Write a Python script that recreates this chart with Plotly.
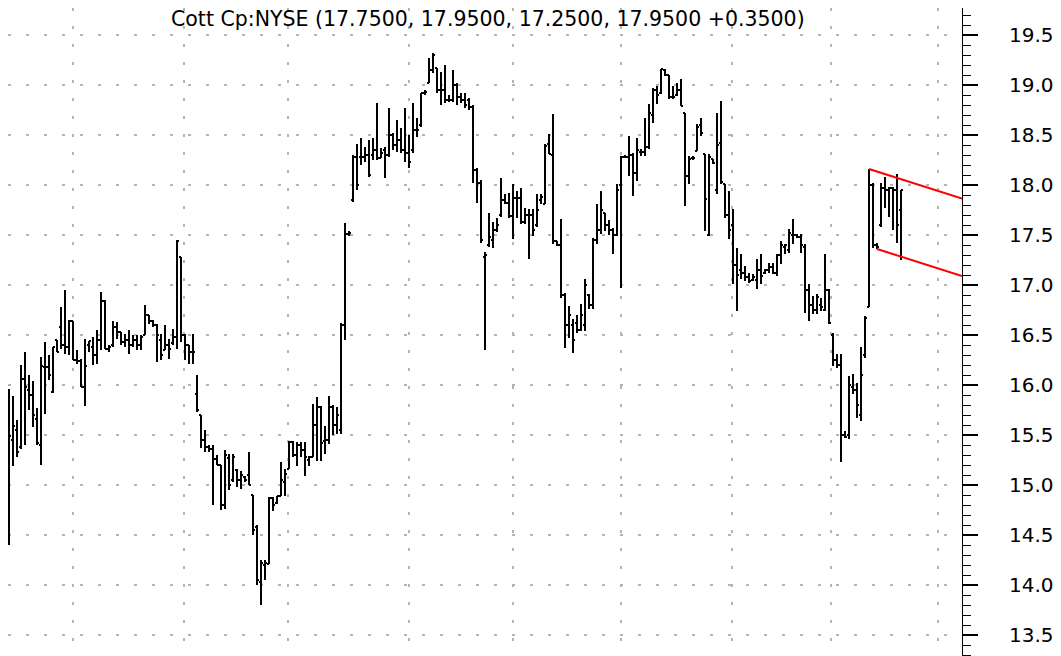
import plotly.graph_objects as go

# ---------------- data ----------------
ticker = "Cott Cp:NYSE"

opens = [
    14.65, 15.45, 15.55, 15.38, 16.06, 15.95, 15.90, 15.66, 15.40, 16.18,
    16.18, 15.93, 16.45, 16.58, 16.40, 16.38, 16.64, 16.25, 16.24, 15.98,
    16.40, 16.38, 16.30, 16.45, 16.84, 16.36, 16.40, 16.58, 16.53, 16.43,
    16.45, 16.40, 16.45, 16.40, 16.50, 16.70, 16.64, 16.60, 16.45, 16.35,
    16.40, 16.42, 16.48, 17.28, 16.50, 16.40, 16.33, 15.91, 15.70, 15.45,
    15.38, 15.36, 15.26, 15.20, 14.80, 15.27, 15.05, 15.15, 15.05, 15.08,
    15.10, 14.90, 14.58, 14.03, 14.20, 14.21, 14.87, 14.82, 14.89, 15.03,
    15.16, 15.43, 15.30, 15.40, 15.35, 15.25, 15.28, 15.60, 15.78, 15.44,
    15.45, 15.78, 15.60, 15.55, 16.60, 17.51, 17.85, 18.28, 18.28, 18.28,
    18.30, 18.30, 18.35, 18.27, 18.35, 18.30, 18.50, 18.40, 18.45, 18.35,
    18.32, 18.35, 18.55, 18.60, 18.92, 19.02, 19.15, 19.17, 18.95, 18.95,
    18.85, 18.85, 19.00, 18.88, 18.85, 18.85, 18.78, 18.15, 18.02, 17.28,
    17.40, 17.45, 17.55, 17.70, 17.85, 17.82, 17.69, 17.87, 17.87, 17.63,
    17.70, 17.70, 17.60, 17.85, 17.81, 18.41, 18.30, 17.44, 17.40, 16.90,
    16.60, 16.60, 16.62, 16.55, 16.60, 16.90, 16.80, 17.45, 17.55, 17.72,
    17.60, 17.55, 17.50, 18.00, 18.28, 18.28, 18.30, 18.12, 18.33, 18.33,
    18.38, 18.70, 18.95, 18.92, 19.15, 19.10, 18.88, 18.90, 18.95, 18.72,
    18.09, 18.27, 18.34, 18.60, 18.31, 17.50, 18.26, 17.95, 18.42, 18.01,
    17.70, 17.60, 17.20, 17.15, 17.12, 17.08, 17.05, 17.05, 17.15, 17.12,
    17.15, 17.18, 17.12, 17.30, 17.38, 17.35, 17.50, 17.50, 17.48, 17.38,
    16.95, 16.80, 16.75, 16.80, 16.75, 16.95, 16.50, 16.25, 16.20, 15.50,
    15.50, 15.98, 15.95, 15.70, 16.30, 16.78, 18.00, 17.40, 17.60, 17.97,
    17.95, 17.97, 17.95, 17.75,
]
highs = [
    15.96, 15.89, 15.65, 16.20, 16.33, 16.10, 16.04, 15.77, 16.28, 16.43,
    16.30, 16.38, 16.45, 16.78, 16.95, 16.65, 16.64, 16.35, 16.26, 16.46,
    16.44, 16.48, 16.55, 16.93, 16.85, 16.40, 16.64, 16.63, 16.53, 16.51,
    16.55, 16.50, 16.50, 16.50, 16.80, 16.70, 16.65, 16.61, 16.51, 16.60,
    16.46, 16.56, 17.45, 17.28, 16.51, 16.40, 16.51, 16.10, 15.70, 15.55,
    15.40, 15.40, 15.30, 15.20, 15.35, 15.31, 15.31, 15.16, 15.14, 15.09,
    15.33, 14.90, 14.60, 14.25, 14.25, 14.88, 14.88, 14.89, 15.23, 15.16,
    15.44, 15.44, 15.43, 15.43, 15.43, 15.29, 15.81, 15.88, 15.79, 15.59,
    15.89, 15.80, 15.78, 16.62, 17.62, 17.54, 18.30, 18.41, 18.47, 18.38,
    18.45, 18.47, 18.82, 18.37, 18.38, 18.77, 18.52, 18.65, 18.57, 18.77,
    18.50, 18.82, 18.67, 18.92, 18.95, 19.27, 19.32, 19.17, 19.13, 19.20,
    18.90, 19.15, 19.02, 18.92, 18.92, 18.87, 18.80, 18.17, 18.05, 17.33,
    17.72, 17.63, 17.67, 18.07, 17.91, 17.92, 18.01, 17.94, 17.97, 17.77,
    17.76, 17.76, 17.91, 17.91, 18.41, 18.51, 18.71, 17.44, 17.66, 16.92,
    16.79, 16.66, 16.70, 16.81, 17.06, 16.91, 17.47, 17.81, 17.94, 17.72,
    17.65, 17.57, 18.01, 18.29, 18.30, 18.49, 18.32, 18.47, 18.36, 18.67,
    18.81, 18.97, 18.99, 19.16, 19.16, 19.10, 18.99, 19.02, 19.06, 18.72,
    18.29, 18.29, 18.61, 18.67, 18.31, 18.31, 18.26, 18.72, 18.84, 18.01,
    17.94, 17.76, 17.37, 17.31, 17.19, 17.12, 17.11, 17.26, 17.31, 17.16,
    17.22, 17.22, 17.31, 17.44, 17.41, 17.56, 17.66, 17.51, 17.51, 17.41,
    17.01, 16.89, 16.91, 16.87, 17.31, 16.96, 16.52, 16.31, 16.31, 15.54,
    16.09, 16.11, 16.02, 16.38, 16.69, 18.16, 18.02, 17.42, 18.02, 18.08,
    17.98, 17.98, 18.11, 17.95,
]
lows = [
    14.40, 15.19, 15.28, 15.36, 15.40, 15.75, 15.58, 15.40, 15.20, 15.71,
    16.05, 15.92, 16.33, 16.36, 16.31, 16.30, 16.25, 16.21, 15.98, 15.79,
    16.33, 16.20, 16.21, 16.35, 16.36, 16.33, 16.38, 16.46, 16.40, 16.38,
    16.31, 16.38, 16.35, 16.35, 16.50, 16.61, 16.58, 16.23, 16.25, 16.35,
    16.26, 16.40, 16.36, 16.43, 16.25, 16.21, 16.21, 15.73, 15.37, 15.33,
    15.33, 14.80, 15.20, 14.75, 14.76, 14.95, 15.03, 14.98, 14.96, 15.03,
    15.00, 14.50, 14.00, 13.80, 14.05, 14.21, 14.74, 14.81, 14.89, 14.89,
    15.16, 15.28, 15.19, 15.28, 15.09, 15.19, 15.28, 15.24, 15.24, 15.31,
    15.41, 15.50, 15.51, 15.51, 16.45, 17.49, 17.83, 17.95, 18.20, 18.23,
    18.08, 18.25, 18.25, 18.27, 18.07, 18.28, 18.35, 18.33, 18.32, 18.23,
    18.17, 18.32, 18.48, 18.58, 18.90, 19.02, 19.12, 18.92, 18.80, 18.82,
    18.83, 18.83, 18.80, 18.82, 18.77, 18.75, 18.02, 17.82, 17.42, 16.35,
    17.38, 17.37, 17.53, 17.68, 17.81, 17.67, 17.46, 17.67, 17.61, 17.61,
    17.26, 17.49, 17.58, 17.81, 17.81, 18.31, 17.41, 17.39, 16.87, 16.37,
    16.47, 16.32, 16.52, 16.54, 16.54, 16.76, 16.76, 17.41, 17.51, 17.54,
    17.50, 17.31, 17.49, 16.97, 18.27, 18.09, 17.89, 18.04, 18.29, 18.29,
    18.36, 18.62, 18.81, 18.91, 19.09, 18.86, 18.86, 18.89, 18.79, 17.79,
    18.01, 18.25, 18.34, 18.49, 17.54, 17.49, 18.21, 17.91, 18.01, 17.67,
    17.46, 17.01, 16.74, 17.06, 17.04, 17.02, 17.04, 16.96, 17.01, 17.11,
    17.12, 17.11, 17.09, 17.21, 17.31, 17.32, 17.41, 17.47, 17.32, 16.72,
    16.64, 16.71, 16.71, 16.74, 16.74, 16.61, 16.19, 16.17, 15.23, 15.47,
    15.46, 15.91, 15.67, 15.64, 16.27, 16.78, 17.37, 17.36, 17.58, 17.77,
    17.68, 17.55, 17.42, 17.25,
]
closes = [
    15.49, 15.59, 15.33, 16.06, 15.98, 15.90, 15.70, 15.42, 16.19, 16.18,
    16.10, 16.38, 16.33, 16.40, 16.38, 16.64, 16.25, 16.24, 15.98, 16.19,
    16.44, 16.30, 16.45, 16.84, 16.36, 16.38, 16.58, 16.53, 16.43, 16.45,
    16.40, 16.45, 16.40, 16.48, 16.70, 16.64, 16.60, 16.50, 16.30, 16.40,
    16.36, 16.48, 17.44, 16.50, 16.40, 16.33, 16.33, 15.75, 15.45, 15.38,
    15.36, 15.26, 15.20, 14.80, 15.30, 15.00, 15.28, 15.05, 15.10, 15.05,
    15.00, 14.55, 14.05, 14.22, 14.22, 14.87, 14.80, 14.89, 15.05, 15.11,
    15.43, 15.30, 15.40, 15.35, 15.28, 15.28, 15.60, 15.78, 15.42, 15.45,
    15.78, 15.60, 15.70, 16.60, 17.51, 17.52, 18.28, 18.00, 18.28, 18.30,
    18.10, 18.35, 18.27, 18.32, 18.30, 18.50, 18.40, 18.45, 18.35, 18.32,
    18.23, 18.55, 18.55, 18.92, 18.93, 19.15, 19.30, 18.95, 18.95, 18.85,
    18.85, 19.00, 18.88, 18.85, 18.80, 18.78, 18.15, 18.02, 17.45, 17.30,
    17.48, 17.55, 17.60, 17.85, 17.82, 17.69, 17.87, 17.87, 17.63, 17.70,
    17.70, 17.55, 17.75, 17.88, 18.39, 18.31, 17.44, 17.40, 16.90, 16.60,
    16.70, 16.45, 16.55, 16.70, 17.00, 16.80, 17.45, 17.55, 17.75, 17.60,
    17.55, 17.50, 17.95, 18.28, 18.28, 18.30, 18.12, 18.35, 18.33, 18.38,
    18.72, 18.95, 18.90, 19.16, 19.10, 18.88, 18.88, 18.95, 18.79, 18.09,
    18.26, 18.27, 18.58, 18.52, 17.86, 18.28, 18.22, 18.40, 18.03, 17.70,
    17.55, 17.20, 17.10, 17.12, 17.08, 17.04, 17.08, 17.15, 17.09, 17.15,
    17.18, 17.12, 17.30, 17.40, 17.40, 17.52, 17.50, 17.48, 17.40, 16.95,
    16.80, 16.75, 16.88, 16.78, 16.95, 16.62, 16.25, 16.20, 15.50, 15.48,
    16.00, 15.95, 15.80, 16.10, 16.67, 18.00, 17.40, 17.38, 17.97, 17.95,
    17.97, 17.95, 17.60, 17.95,
]
bar_index = list(range(len(closes)))

# vertical (period) grid positions, in bar-index units
period_grid_idx = [16.1, 43.7, 69.7, 100.0, 126.0, 153.1, 180.7, 205.5, 232.25]

# price-axis ticks
price_ticks = [13.5, 14.0, 14.5, 15.0, 15.5, 16.0, 16.5, 17.0, 17.5, 18.0, 18.5, 19.0, 19.5]
price_tick_text = ["13.5", "14.0", "14.5", "15.0", "15.5", "16.0", "16.5",
                   "17.0", "17.5", "18.0", "18.5", "19.0", "19.5"]

# hand-drawn channel: anchor bars (upper on a high, lower on a low) and common slope
channel_anchor_bar = [215, 217]
channel_anchor_price = [18.16, 17.36]
channel_slope = -0.0127  # price per bar

# ---------------- figure ----------------
# the page body has an 8px margin, so the figure is 8px smaller than the window
W, H = 1053, 648
x_range = [-0.25, 238.25]
y_range = [13.29, 19.77]

fig = go.Figure()
fig.add_trace(go.Ohlc(
    x=bar_index, open=opens, high=highs, low=lows, close=closes,
    increasing=dict(line=dict(color="black", width=2)),
    decreasing=dict(line=dict(color="black", width=2)),
    tickwidth=0.5, hoverinfo="skip", showlegend=False,
))

x_end = x_range[1]
for b, p in zip(channel_anchor_bar, channel_anchor_price):
    fig.add_trace(go.Scatter(
        x=[b, x_end], y=[p, p + channel_slope * (x_end - b)],
        mode="lines", line=dict(color="#ff0000", width=2),
        hoverinfo="skip", showlegend=False,
    ))

prev_close = closes[-2]
title = "{} ({:.4f}, {:.4f}, {:.4f}, {:.4f} {:+.4f})".format(
    ticker, opens[-1], highs[-1], lows[-1], closes[-1], closes[-1] - prev_close)

font_family = "DejaVu Sans, Verdana, sans-serif"

fig.update_layout(
    width=W, height=H, autosize=False,
    margin=dict(l=0, r=99, t=0, b=0),
    paper_bgcolor="white", plot_bgcolor="white",
    font=dict(family=font_family, color="black", size=20),
    annotations=[dict(
        text=title, xref="paper", yref="paper", x=479.5 / 954, y=1 - 11 / H,
        xanchor="center", yanchor="middle", showarrow=False,
        font=dict(family=font_family, size=20.5, color="black"),
    )],
)
fig.update_xaxes(
    range=x_range, rangeslider=dict(visible=False),
    showline=False, zeroline=False, ticks="", showticklabels=False,
    tickmode="array", tickvals=period_grid_idx,
    showgrid=True, gridcolor="#b4b4b4", gridwidth=2, griddash="3px,15px",
)
fig.update_yaxes(
    range=y_range, side="right", zeroline=False,
    showline=True, linecolor="black", linewidth=1,
    tickmode="array", tickvals=price_ticks, ticktext=price_tick_text,
    ticks="outside", ticklen=15, tickwidth=2, tickcolor="black",
    ticklabelstandoff=27,
    tickfont=dict(family=font_family, size=20, color="black"),
    showgrid=True, gridcolor="#b4b4b4", gridwidth=2, griddash="3px,15px",
    minor=dict(ticks="outside", dtick=0.1, tick0=13.5, ticklen=8, tickwidth=1,
               tickcolor="black", showgrid=False),
)

fig.write_html("out.html")
